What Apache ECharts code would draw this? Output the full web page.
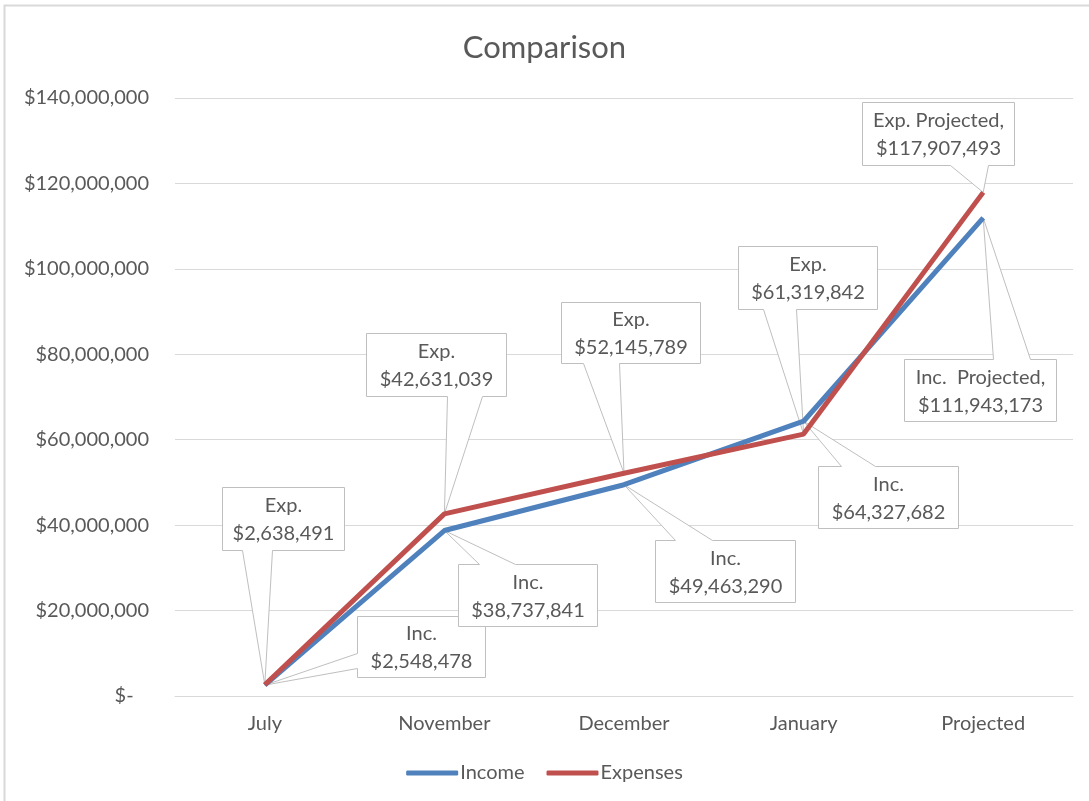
<!DOCTYPE html>
<html>
<head>
<meta charset="UTF-8">
<title>Comparison</title>
<script src="https://cdn.jsdelivr.net/npm/echarts@6/dist/echarts.min.js"></script>
</head>
<body style="margin:0">
<div id="chart" style="width:1089px;height:801px"></div>
<script>
var months = ['July', 'November', 'December', 'January', 'Projected'];
var income = [2548478, 38737841, 49463290, 64327682, 111943173];
var expenses = [2638491, 42631039, 52145789, 61319842, 117907493];
var incPrefix = ['Inc.', 'Inc.', 'Inc.', 'Inc.', 'Inc.  Projected,'];
var expPrefix = ['Exp.', 'Exp.', 'Exp.', 'Exp.', 'Exp. Projected,'];

// callout box relative to its point: dx, dy, width, height, wedge side, wedge base from/to
var incBoxes = [
    [92, -69, 128, 61, 'left', 37, 52],
    [14, 33, 139, 62, 'top', 21, 57],
    [31, 55, 140, 62, 'top', 20, 57],
    [14, 45, 140, 62, 'top', 23, 57],
    [-79, 141, 152, 62, 'top', 89, 126]
];
var expBoxes = [
    [-43, -198, 122, 63, 'bottom', 20, 50],
    [-78, -181, 140, 63, 'bottom', 81, 116],
    [-63, -171, 139, 61, 'bottom', 22, 58],
    [-66, -188, 139, 63, 'bottom', 25, 58],
    [-121, -90, 152, 63, 'bottom', 88, 126]
];

var FONT = 'Lato';
var GREY = '#595959';

function money(v) {
    return '$' + v.toLocaleString('en-US');
}

function callout(boxes, prefix) {
    return function (params, api) {
        var i = params.dataIndex;
        var p = api.coord([api.value(0), api.value(1)]);
        var b = boxes[i];
        var L = Math.round(p[0] + b[0]) + 0.5, T = Math.round(p[1] + b[1]) + 0.5;
        var R = L + b[2], B = T + b[3];
        var a = b[5], c = b[6], pts;
        if (b[4] === 'bottom') {
            pts = [[L, T], [R, T], [R, B], [L + c, B], p, [L + a, B], [L, B]];
        } else if (b[4] === 'top') {
            pts = [[L, T], [L + a, T], p, [L + c, T], [R, T], [R, B], [L, B]];
        } else {
            pts = [[L, T], [R, T], [R, B], [L, B], [L, T + c], p, [L, T + a]];
        }
        return {
            type: 'group',
            children: [{
                type: 'polygon',
                shape: { points: pts },
                style: { fill: '#fff', stroke: '#bfbfbf', lineWidth: 1 }
            }, {
                type: 'text',
                style: {
                    text: prefix[i] + '\n' + money(api.value(1)),
                    x: (L + R) / 2, y: (T + B) / 2 + 1,
                    align: 'center', verticalAlign: 'middle',
                    fontFamily: FONT, fontSize: 20, lineHeight: 28, fill: GREY
                }
            }]
        };
    };
}

var chart = echarts.init(document.getElementById('chart'));

chart.setOption({
    animation: false,
    backgroundColor: '#fff',
    title: {
        text: 'Comparison',
        left: 'center',
        top: 27,
        textStyle: { fontFamily: FONT, fontSize: 31, fontWeight: 'normal', color: GREY }
    },
    legend: {
        data: ['Income', 'Expenses'],
        bottom: 13,
        left: 'center',
        icon: 'roundRect',
        itemWidth: 52,
        itemHeight: 5,
        itemGap: 22,
        textStyle: { fontFamily: FONT, fontSize: 20, color: GREY, padding: [0, 0, 0, -3] }
    },
    grid: { left: 175, right: 16, top: 98, bottom: 105 },
    xAxis: {
        type: 'category',
        data: months,
        axisLine: { lineStyle: { color: '#d9d9d9', width: 1 } },
        axisTick: { show: false },
        axisLabel: { fontFamily: FONT, fontSize: 20, color: GREY, margin: 18 }
    },
    yAxis: {
        type: 'value',
        min: 0,
        max: 140000000,
        interval: 20000000,
        axisLine: { show: false },
        axisTick: { show: false },
        splitLine: { lineStyle: { color: '#d9d9d9', width: 1 } },
        axisLabel: {
            fontFamily: FONT, fontSize: 20, color: GREY, margin: 26,
            formatter: function (v) { return v === 0 ? '$-   ' : money(v); }
        }
    },
    graphic: [{
        type: 'rect',
        shape: { x: 4.5, y: 5.5, width: 1200, height: 1200 },
        style: { fill: 'none', stroke: '#d9d9d9', lineWidth: 2 },
        silent: true
    }],
    series: [{
        name: 'Income',
        type: 'line',
        data: income,
        showSymbol: false,
        z: 3,
        itemStyle: { color: '#4f81bd' },
        lineStyle: { color: '#4f81bd', width: 5 }
    }, {
        name: 'Expenses',
        type: 'line',
        data: expenses,
        showSymbol: false,
        z: 4,
        itemStyle: { color: '#c0504d' },
        lineStyle: { color: '#c0504d', width: 5 }
    }, {
        name: 'incLabels',
        type: 'custom',
        z: 2,
        clip: false,
        encode: { x: 0, y: 1 },
        data: income.map(function (v, i) { return [i, v]; }),
        renderItem: callout(incBoxes, incPrefix)
    }, {
        name: 'expLabels',
        type: 'custom',
        z: 2,
        clip: false,
        encode: { x: 0, y: 1 },
        data: expenses.map(function (v, i) { return [i, v]; }),
        renderItem: callout(expBoxes, expPrefix)
    }]
});
</script>
</body>
</html>
